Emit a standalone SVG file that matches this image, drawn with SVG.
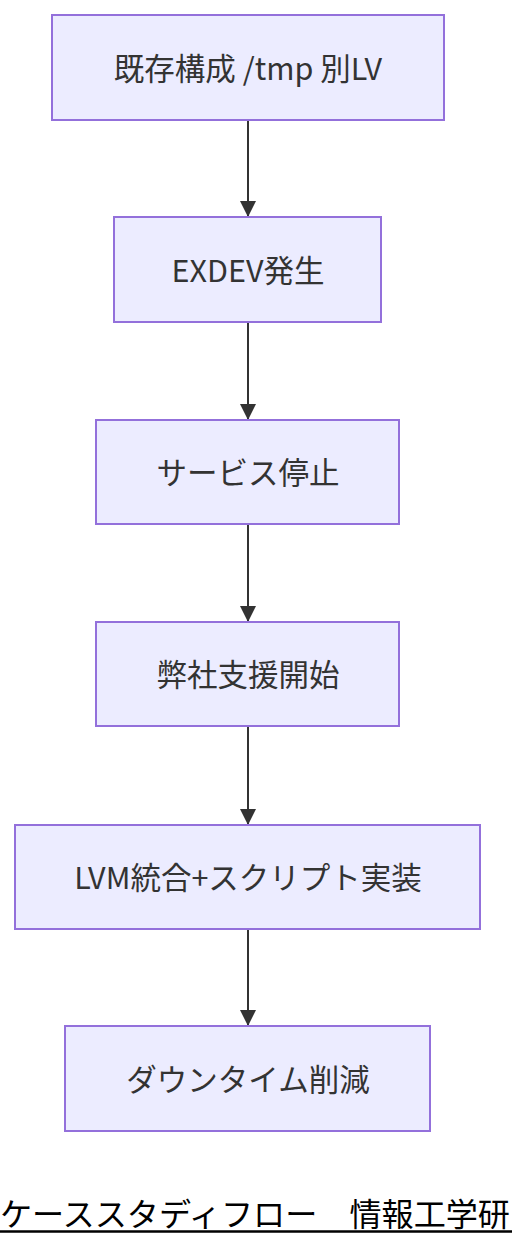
<svg xmlns="http://www.w3.org/2000/svg" width="512" height="1244" viewBox="0 0 512 1244">
<defs>
<style>
.node rect{fill:#ECECFF;stroke:#9370DB;stroke-width:2}
.node text{font-family:"Noto Sans CJK JP","Noto Sans",sans-serif;font-size:30.5px;fill:#333;text-anchor:middle;dominant-baseline:central}
.edge{stroke:#333;stroke-width:2;fill:none;marker-end:url(#arrow)}
.title{font-family:"Noto Sans CJK JP",sans-serif;font-size:32px;fill:#000}
</style>
<marker id="arrow" viewBox="0 0 10 10" refX="10" refY="5" markerUnits="userSpaceOnUse" markerWidth="16" markerHeight="16" orient="auto">
<path d="M0,0 L10,5 L0,10 z" fill="#333"/>
</marker>
</defs>
<rect width="512" height="1244" fill="#fff"/>
<g id="connectors">
<line class="edge" x1="248" y1="121" x2="248" y2="217"/>
<line class="edge" x1="248" y1="323" x2="248" y2="420"/>
<line class="edge" x1="248" y1="525" x2="248" y2="622"/>
<line class="edge" x1="248" y1="727" x2="248" y2="825"/>
<line class="edge" x1="248" y1="930" x2="248" y2="1026"/>
</g>
<g id="n1" class="node"><rect x="52" y="15" width="392" height="105"/><text x="248" y="67">既存構成 /tmp 別LV</text></g>
<g id="n2" class="node"><rect x="114" y="217" width="267" height="105"/><text x="248" y="269">EXDEV発生</text></g>
<g id="n3" class="node"><rect x="96" y="420" width="303" height="104"/><text x="248" y="471">サービス停止</text></g>
<g id="n4" class="node"><rect x="96" y="622" width="303" height="104"/><text x="248" y="673">弊社支援開始</text></g>
<g id="n5" class="node"><rect x="15" y="825" width="465" height="104"/><text x="248" y="876">LVM統合+スクリプト実装</text></g>
<g id="n6" class="node"><rect x="65" y="1026" width="365" height="105"/><text x="248" y="1078">ダウンタイム削減</text></g>
<g id="title">
<text class="title" x="0" y="1226" textLength="510" lengthAdjust="spacingAndGlyphs">ケーススタディフロー　情報工学研</text>
<line x1="0" y1="1231.5" x2="512" y2="1231.5" stroke="#000" stroke-width="2.5"/>
</g>
</svg>
